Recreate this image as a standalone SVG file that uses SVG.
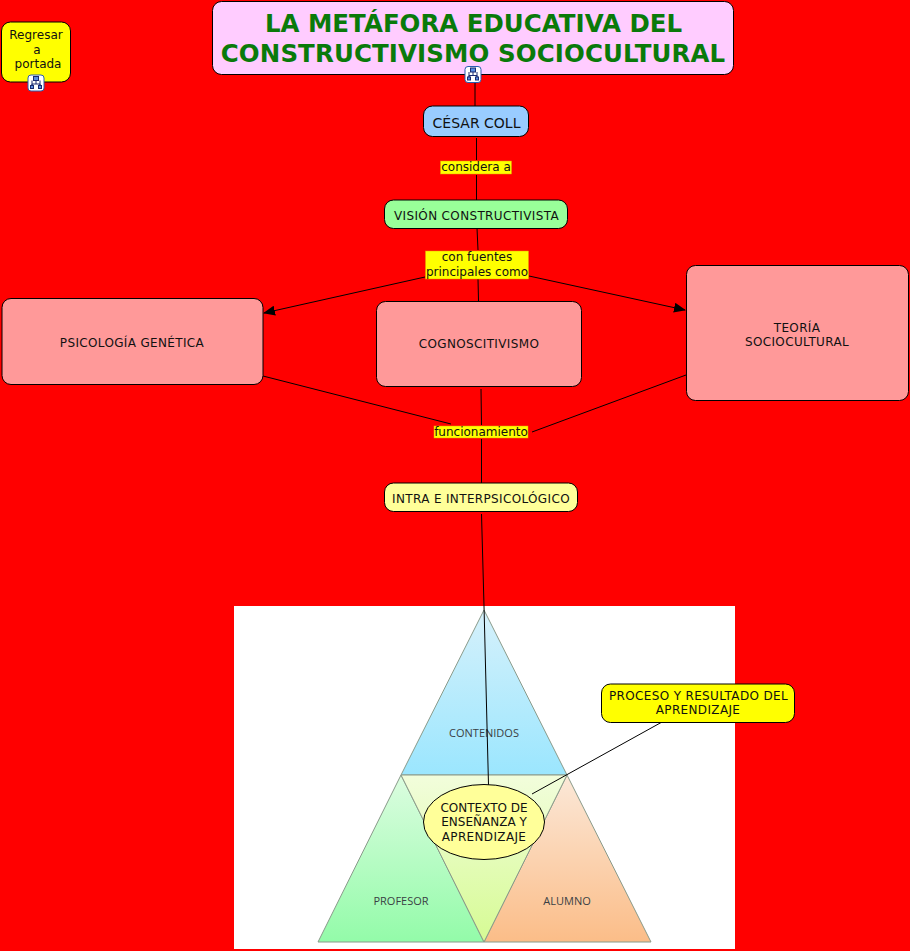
<svg xmlns="http://www.w3.org/2000/svg" width="910" height="951" viewBox="0 0 910 951">
<style>
.n{stroke:#000;stroke-width:1}
.c{stroke:#000;stroke-width:1;fill:none}
text{font-family:"DejaVu Sans",Verdana,sans-serif;font-size:12px;fill:#111;text-anchor:middle}
.k{letter-spacing:.35px}
.h{font-size:24.500px;font-weight:700;fill:#0a7a0a}
.l{fill:#ff0;stroke:#e8a000;stroke-width:.5}
.t{stroke:#8a9a8a;stroke-width:1}
.img{font-family:"Open Sans","Liberation Sans",sans-serif;font-size:11px;fill:#3a3f44}
.ic{fill:#fff;stroke:#2a5db0;stroke-width:1}
.g{fill:#5a8ee0;stroke:#1a2a70;stroke-width:1}
.w{fill:none;stroke:#1a2a70;stroke-width:1}
</style>
<defs>
<marker id="a" markerWidth="12" markerHeight="10" refX="11" refY="5" orient="auto" markerUnits="userSpaceOnUse"><path d="M0 0L12 5L0 10z" fill="#000"/></marker>
<linearGradient id="gb" x1="0" y1="0" x2="0" y2="1"><stop offset="0" stop-color="#d6f1fb"/><stop offset="1" stop-color="#9be6fe"/></linearGradient>
<linearGradient id="gg" x1="0" y1="0" x2="0" y2="1"><stop offset="0" stop-color="#dcfde0"/><stop offset="1" stop-color="#93fba9"/></linearGradient>
<linearGradient id="go" x1="0" y1="0" x2="0" y2="1"><stop offset="0" stop-color="#fbe8d8"/><stop offset="1" stop-color="#fbbd88"/></linearGradient>
<linearGradient id="gy" x1="0" y1="0" x2="0" y2="1"><stop offset="0" stop-color="#f2fddc"/><stop offset="1" stop-color="#d6fb94"/></linearGradient>
<g id="icon"><rect x="-8" y="-8" width="16" height="16" rx="3" class="ic"/><path class="w" d="M0-2.500V1M-4 3V1H4V3M-4-2.500V3M4-2.500V3"/><rect class="g" x="-2.500" y="-6.500" width="5" height="4"/><rect class="g" x="-5.500" y="2.500" width="3" height="3"/><rect class="g" x="2.500" y="2.500" width="3" height="3"/></g>
</defs>
<rect width="910" height="951" fill="#f00"/>
<g id="picture">
<rect x="234" y="606" width="501" height="343" fill="#fff"/>
<path d="M484 610L567 775H401z" fill="url(#gb)" class="t"/>
<path d="M401 775L484 942H318z" fill="url(#gg)" class="t"/>
<path d="M567 775L651 942H484z" fill="url(#go)" class="t"/>
<path d="M401 775H567L484 942z" fill="url(#gy)" class="t"/>
<text class="img" x="484" y="737">CONTENIDOS</text>
<text class="img" x="401" y="905">PROFESOR</text>
<text class="img" x="567" y="905">ALUMNO</text>
</g>
<g id="connectors">
<path class="c" d="M475 75V106"/>
<path class="c" d="M476.500 138V160M476.500 175V200"/>
<path class="c" d="M477 228L478 250M478 279L478.500 301"/>
<path class="c" d="M425 277L264 313" marker-end="url(#a)"/>
<path class="c" d="M529 276L685 310" marker-end="url(#a)"/>
<path class="c" d="M263 376L451 424M481 389L481.500 425M481.500 439L481.500 483M686 375L532 432"/>
<path class="c" d="M481.500 514L484 606L488.500 785"/>
<path class="c" d="M662 722L532 794"/>
</g>
<g id="node-titulo"><rect class="n" x="212.500" y="1.500" width="521" height="73" rx="9" fill="#fcf"/>
<text class="h" x="473.500" y="32">LA METÁFORA EDUCATIVA DEL</text>
<text class="h" x="473" y="62" style="letter-spacing:.1px">CONSTRUCTIVISMO SOCIOCULTURAL</text>
<use href="#icon" x="473" y="74.500"/></g>
<g id="node-regresar"><rect class="n" x="1.500" y="22" width="69" height="60" rx="9" fill="#ff0"/>
<text x="36" y="39">Regresar</text><text x="37" y="54">a</text><text x="38" y="68">portada</text>
<use href="#icon" x="36" y="83"/></g>
<g id="node-coll"><rect class="n" x="423.500" y="106" width="105" height="30.500" rx="9" fill="#9cf"/><text x="476.500" y="128" style="font-size:14px">CÉSAR COLL</text></g>
<g id="label-considera"><rect class="l" x="440.500" y="161" width="71" height="13"/><text x="476" y="171">considera a</text></g>
<g id="node-vision"><rect class="n" x="384.500" y="200" width="183" height="28.500" rx="9" fill="#9f9"/><text class="k" x="476.500" y="220">VISIÓN CONSTRUCTIVISTA</text></g>
<g id="label-fuentes"><rect class="l" x="425.500" y="251" width="103" height="28"/><text x="477" y="261">con fuentes</text><text x="477" y="276">principales como</text></g>
<g id="node-genetica"><rect class="n" x="2" y="298.500" width="261" height="86" rx="9" fill="#f99"/><text class="k" x="132" y="347">PSICOLOGÍA GENÉTICA</text></g>
<g id="node-cognos"><rect class="n" x="376.500" y="301.500" width="205" height="85" rx="9" fill="#f99"/><text class="k" x="479" y="348">COGNOSCITIVISMO</text></g>
<g id="node-teoria"><rect class="n" x="686.500" y="265.500" width="222" height="135" rx="9" fill="#f99"/><text class="k" x="797" y="332">TEORÍA</text><text class="k" x="797" y="346">SOCIOCULTURAL</text></g>
<g id="label-func"><rect class="l" x="434" y="426" width="94" height="12"/><text x="481" y="436">funcionamiento</text></g>
<g id="node-intra"><rect class="n" x="384.500" y="483" width="193" height="28.500" rx="9" fill="#ff9"/><text class="k" x="481" y="503">INTRA E INTERPSICOLÓGICO</text></g>
<g id="node-proceso"><rect class="n" x="601.500" y="684" width="193" height="38.500" rx="9" fill="#ff0"/><text class="k" x="698.500" y="700">PROCESO Y RESULTADO DEL</text><text class="k" x="698" y="714">APRENDIZAJE</text></g>
<g id="node-contexto"><ellipse class="n" cx="484" cy="822" rx="60.500" ry="37.500" fill="#ff9"/><text x="484" y="812">CONTEXTO DE</text><text x="484" y="826">ENSEÑANZA Y</text><text class="k" x="484" y="841">APRENDIZAJE</text></g>
</svg>
